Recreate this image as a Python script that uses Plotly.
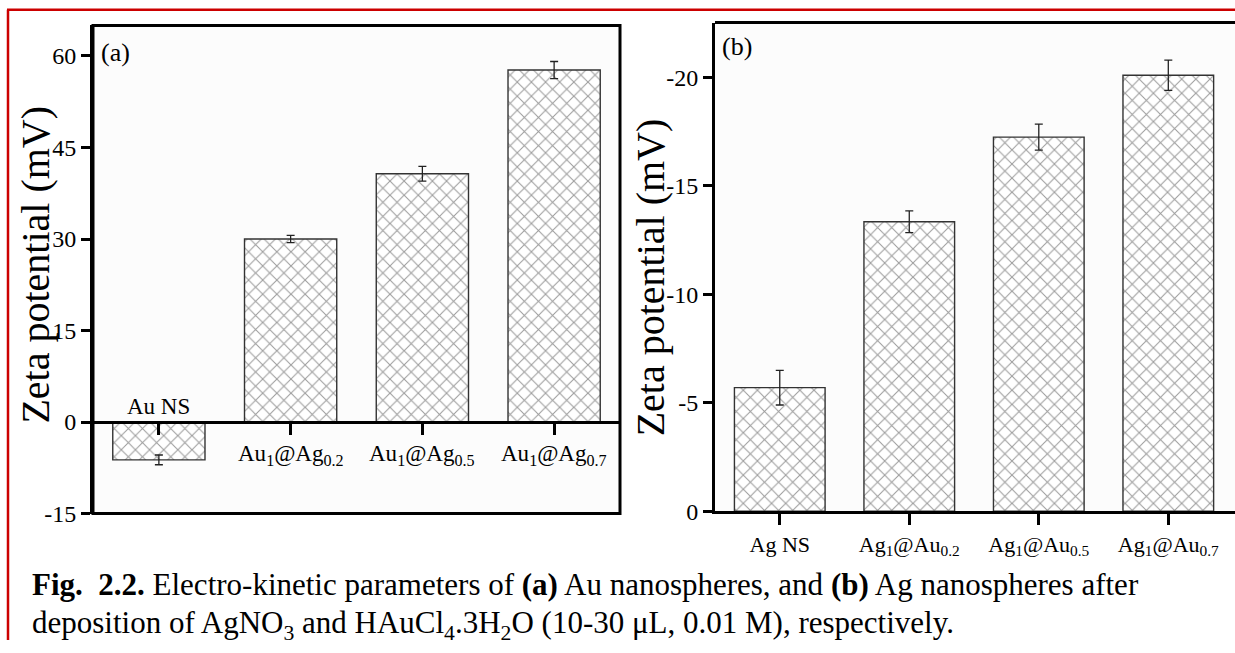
import plotly.graph_objects as go

# ---------------- data ----------------
cats_a = ["Au NS", "Au<sub>1</sub>@Ag<sub>0.2</sub>", "Au<sub>1</sub>@Ag<sub>0.5</sub>", "Au<sub>1</sub>@Ag<sub>0.7</sub>"]
zeta_a = [-6.2, 30.0, 40.7, 57.7]
err_a = [0.8, 0.6, 1.2, 1.4]

cats_b = ["Ag NS", "Ag<sub>1</sub>@Au<sub>0.2</sub>", "Ag<sub>1</sub>@Au<sub>0.5</sub>", "Ag<sub>1</sub>@Au<sub>0.7</sub>"]
zeta_b = [-5.7, -13.35, -17.25, -20.1]
err_b = [0.8, 0.5, 0.6, 0.7]

yticks_a = [-15, 0, 15, 30, 45, 60]
yticks_b = [0, -5, -10, -15, -20]

W, H = 1235, 653
FONT = "Liberation Serif"


def px(x):
    return x / W


def py(y):
    return 1 - y / H


# panel geometry (pixels)
ax_dom = [px(93), px(620)]
ay_dom = [py(524), py(26)]
ay_range = [-15, 65]
bx_dom = [px(715), 1.0]
by_dom = [py(521.7), py(23)]
by_range = [0, -22.53]

pattern = dict(shape="x", fgcolor="#3a3a3a", bgcolor="white", size=10, solidity=0.2)

fig = go.Figure()
fig.add_trace(go.Bar(
    x=list(range(len(cats_a))), y=zeta_a, width=0.7,
    marker=dict(color="white", pattern=pattern, line=dict(color="#333", width=1.4)),
    error_y=dict(type="data", array=err_a, visible=True, color="#222", thickness=1.3, width=4),
    xaxis="x", yaxis="y", showlegend=False,
))
fig.add_trace(go.Bar(
    x=list(range(len(cats_b))), y=zeta_b, width=0.7,
    marker=dict(color="white", pattern=pattern, line=dict(color="#333", width=1.4)),
    error_y=dict(type="data", array=err_b, visible=True, color="#222", thickness=1.3, width=4),
    xaxis="x2", yaxis="y2", showlegend=False,
))

zero_pos = ay_dom[0] + (0 - ay_range[0]) / (ay_range[1] - ay_range[0]) * (ay_dom[1] - ay_dom[0])

tickfont = dict(family=FONT, size=24, color="black")

fig.update_layout(
    width=W, height=H,
    margin=dict(l=0, r=0, t=0, b=0),
    paper_bgcolor="white", plot_bgcolor="#fcfcfc",
    xaxis=dict(domain=ax_dom, range=[-0.5, 3.5], anchor="free", position=zero_pos,
               showline=True, linecolor="black", linewidth=3,
               ticks="outside", ticklen=11, tickwidth=3, tickcolor="black",
               tickvals=list(range(len(cats_a))), showticklabels=False,
               showgrid=False, zeroline=False, fixedrange=True),
    yaxis=dict(domain=ay_dom, range=ay_range, anchor="x",
               showline=True, linecolor="black", linewidth=3,
               ticks="outside", ticklen=9, tickwidth=3, tickcolor="black",
               tickvals=yticks_a, ticktext=[str(v) for v in yticks_a],
               tickfont=tickfont, showgrid=False, zeroline=False),
    xaxis2=dict(domain=bx_dom, range=[-0.5, 3.515], anchor="y2",
                showline=True, linecolor="black", linewidth=3,
                ticks="outside", ticklen=11, tickwidth=3, tickcolor="black",
                tickvals=list(range(len(cats_b))), ticktext=cats_b,
                tickfont=dict(family=FONT, size=22, color="black"),
                ticklabelstandoff=0,
                showgrid=False, zeroline=False),
    yaxis2=dict(domain=by_dom, range=by_range, anchor="x2",
                showline=True, linecolor="black", linewidth=3,
                ticks="outside", ticklen=9, tickwidth=3, tickcolor="black",
                tickvals=yticks_b, ticktext=[str(v) for v in yticks_b],
                tickfont=tickfont, showgrid=False, zeroline=False),
)

shapes = [
    # red page frame (top and left)
    dict(type="line", xref="paper", yref="paper", x0=px(7), x1=1, y0=py(10), y1=py(10),
         line=dict(color="#cc0000", width=2.5), layer="below"),
    dict(type="line", xref="paper", yref="paper", x0=px(8), x1=px(8), y0=py(10), y1=0,
         line=dict(color="#cc0000", width=2.5), layer="below"),
    # panel (a) frame
    dict(type="rect", xref="x domain", yref="y domain", x0=0, x1=1, y0=0, y1=1,
         line=dict(color="black", width=3)),
    # panel (b) top frame line
    dict(type="line", xref="x2 domain", yref="y2 domain", x0=0, x1=1, y0=1, y1=1,
         line=dict(color="black", width=3)),
]
fig.update_layout(shapes=shapes)

ann = []
# category labels for panel (a): negative bar label above the zero line
for i, lab in enumerate(cats_a):
    if zeta_a[i] < 0:
        ann.append(dict(x=i, y=0, xref="x", yref="y", text=lab, showarrow=False,
                        yanchor="bottom", yshift=1, font=dict(family=FONT, size=23, color="black")))
    else:
        ann.append(dict(x=i, y=0, xref="x", yref="y", text=lab, showarrow=False,
                        yanchor="top", yshift=-17, font=dict(family=FONT, size=23, color="black")))

# panel letters
ann.append(dict(x=px(99), y=py(54), xref="paper", yref="paper", text="(a)", showarrow=False,
                xanchor="left", yanchor="middle", font=dict(family=FONT, size=26, color="black")))
ann.append(dict(x=px(720), y=py(47), xref="paper", yref="paper", text="(b)", showarrow=False,
                xanchor="left", yanchor="middle", font=dict(family=FONT, size=26, color="black")))

# y axis titles
ann.append(dict(x=px(36), y=py(270), xref="paper", yref="paper", text="Zeta potential (mV)",
                textangle=-90, showarrow=False, xanchor="center", yanchor="middle",
                font=dict(family=FONT, size=40, color="black")))
ann.append(dict(x=px(650), y=py(283), xref="paper", yref="paper", text="Zeta potential (mV)",
                textangle=-90, showarrow=False, xanchor="center", yanchor="middle",
                font=dict(family=FONT, size=40, color="black")))

# caption
ann.append(dict(x=px(30), y=py(596), xref="paper", yref="paper",
                text="<b>Fig.  2.2.</b> Electro-kinetic parameters of <b>(a)</b> Au nanospheres, and <b>(b)</b> Ag nanospheres after",
                showarrow=False, xanchor="left", yanchor="middle",
                font=dict(family=FONT, size=31, color="black")))
ann.append(dict(x=px(30), y=py(638), xref="paper", yref="paper",
                text="deposition of AgNO<sub>3</sub> and HAuCl<sub>4</sub>.3H<sub>2</sub>O (10-30 μL, 0.01 M), respectively.",
                showarrow=False, xanchor="left", yanchor="middle",
                font=dict(family=FONT, size=31, color="black")))

fig.update_layout(annotations=ann)

fig.write_html("out.html")
